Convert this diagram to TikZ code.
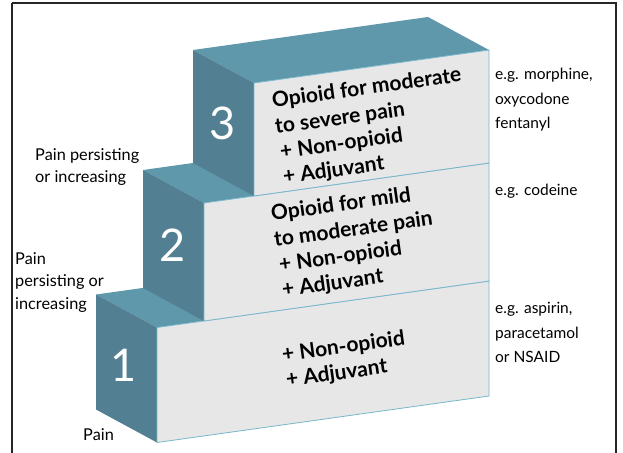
\documentclass[tikz,border=0pt]{standalone}
\usepackage{fontspec}
\setmainfont{Lato}
\definecolor{topc}{RGB}{95,152,170}
\definecolor{sidec}{RGB}{82,128,146}
\definecolor{frontc}{RGB}{231,231,231}
\definecolor{edgec}{RGB}{120,182,204}
\tikzset{
  topface/.style={fill=topc},
  sideface/.style={fill=sidec},
  frontface/.style={fill=frontc, draw=edgec, line width=0.8pt},
  numlabel/.style={text=white, font=\fontsize{45}{45}\selectfont, inner sep=0pt},
  steptext/.style={font=\bfseries\fontsize{21}{24}\selectfont, rotate=8, inner sep=0pt, anchor=base west},
  sidelabel/.style={font=\fontsize{15.5}{24.5}\selectfont, align=left, anchor=north west, inner sep=0pt},
  leftlabel/.style={font=\fontsize{16.3}{22.5}\selectfont, align=left, anchor=north west, inner sep=0pt}
}
\begin{document}
\begin{tikzpicture}[x=1pt,y=-1pt]
\useasboundingbox (0,0) rectangle (623,452);
\fill[white] (0,0) rectangle (623,452);
\draw[line width=1.4pt, black!85] (12,3) -- (616,3) -- (616,470) (12,3) -- (12,470);
% step 1
\fill[topface] (96,294.5) -- (157,327.5) -- (489,281) -- (428,248) -- cycle;
\fill[sideface] (96,294.5) -- (157,327.5) -- (157,442.5) -- (96,409.5) -- cycle;
\path[frontface] (157,327.5) -- (489,281) -- (489,396) -- (157,442.5) -- cycle;
% step 2
\fill[topface] (143,170) -- (204,203) -- (489,163) -- (428,130) -- cycle;
\fill[sideface] (143,170) -- (204,203) -- (204,321) -- (143,288) -- cycle;
\path[frontface] (204,203) -- (489,163) -- (489,281) -- (204,321) -- cycle;
% step 3
\fill[topface] (193,50) -- (254,83) -- (489,50) -- (428,17) -- cycle;
\fill[sideface] (193,50) -- (254,83) -- (254,196) -- (193,163) -- cycle;
\path[frontface] (254,83) -- (489,50) -- (489,163) -- (254,196) -- cycle;
% numbers
\node[numlabel] (n3) at (223,123) {3};
\node[numlabel] (n2) at (173,245) {2};
\node[numlabel] (n1) at (124,365) {1};
% step texts
\node[steptext] (t3a) at (273,108) {Opioid for moderate};
\node[steptext] (t3b) at (276,134) {to severe pain};
\node[steptext] (t3c) at (281,159) {+ Non-opioid};
\node[steptext] (t3d) at (284,184) {+ Adjuvant};
\node[steptext] (t2a) at (272,221) {Opioid for mild};
\node[steptext] (t2b) at (275,247) {to moderate pain};
\node[steptext] (t2c) at (280,272) {+ Non-opioid};
\node[steptext] (t2d) at (283,297) {+ Adjuvant};
\node[steptext] (t1a) at (283,362) {+ Non-opioid};
\node[steptext] (t1b) at (287,387) {+ Adjuvant};
% right labels
\node[sidelabel] (r3) at (495,68) {e.g. morphine,\\oxycodone\\fentanyl};
\node[sidelabel] (r2) at (495,184) {e.g. codeine};
\node[sidelabel] (r1) at (495,302) {e.g. aspirin,\\paracetamol\\or NSAID};
% left labels
\node[leftlabel] (l3) at (35,148) {Pain persisting\\or increasing};
\node[leftlabel] (l2) at (15,252) {Pain\\persisting or\\increasing};
\node[leftlabel] (l1) at (83,428) {Pain};
\end{tikzpicture}
\end{document}
